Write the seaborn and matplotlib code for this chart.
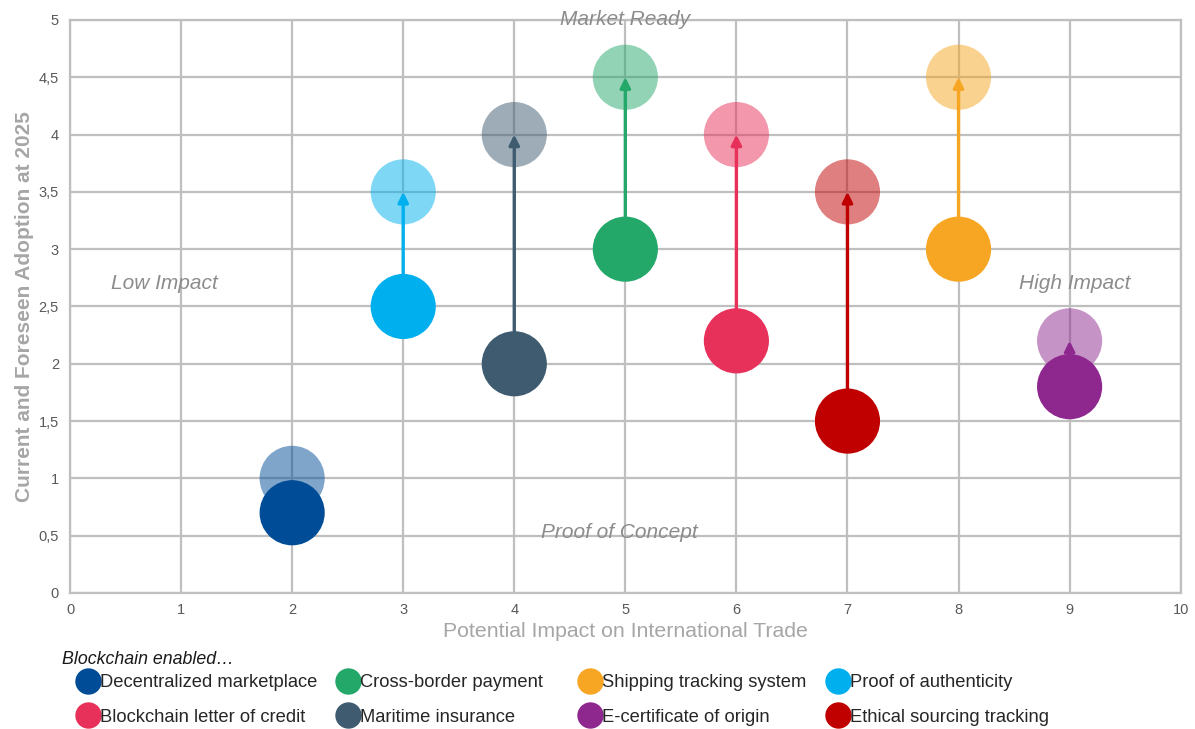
"""Blockchain use cases: current vs foreseen adoption bubble chart."""

import matplotlib

matplotlib.use("Agg")
import matplotlib.pyplot as plt
from matplotlib.lines import Line2D
from matplotlib.ticker import FuncFormatter, MultipleLocator
import pandas as pd
import seaborn as sns

# data
use_cases = [
    "Decentralized marketplace",
    "Proof of authenticity",
    "Maritime insurance",
    "Cross-border payment",
    "Blockchain letter of credit",
    "Ethical sourcing tracking",
    "Shipping tracking system",
    "E-certificate of origin",
]
impact = [2, 3, 4, 5, 6, 7, 8, 9]
adoption_now = [0.7, 2.5, 2.0, 3.0, 2.2, 1.5, 3.0, 1.8]
adoption_2025 = [1.0, 3.5, 4.0, 4.5, 4.0, 3.5, 4.5, 2.2]
colors = ["#004c97", "#00b0ee", "#3e5b70", "#24a86a", "#e8315a", "#c00000", "#f6a623", "#8e288e"]

# legend columns, top row then bottom row
legend_columns = [
    ["Decentralized marketplace", "Blockchain letter of credit"],
    ["Cross-border payment", "Maritime insurance"],
    ["Shipping tracking system", "E-certificate of origin"],
    ["Proof of authenticity", "Ethical sourcing tracking"],
]

quadrant_labels = [
    ("Market Ready", 5.0, 5.0),
    ("Low Impact", 0.85, 2.7),
    ("High Impact", 9.05, 2.7),
    ("Proof of Concept", 4.95, 0.53),
]

df = pd.DataFrame({"case": use_cases, "impact": impact, "now": adoption_now, "later": adoption_2025})
palette = dict(zip(use_cases, colors))

sns.set_theme(style="whitegrid")
plt.rcParams["font.family"] = ["Liberation Sans", "DejaVu Sans"]

fig = plt.figure(figsize=(11.95, 7.29), dpi=100)
ax = fig.add_axes([0.0586, 0.1866, 0.9294, 0.786])

grid_col = "#bfbfbf"
bubble = 2200

sns.scatterplot(data=df, x="impact", y="later", hue="case", palette=palette, s=bubble,
                alpha=0.5, linewidth=0, legend=False, ax=ax, zorder=3)
for _, row in df.iterrows():
    ax.annotate("", xy=(row["impact"], row["later"]), xytext=(row["impact"], row["now"]),
                arrowprops=dict(arrowstyle="-|>,head_length=0.5,head_width=0.25",
                                color=palette[row["case"]], lw=2.4, shrinkA=0, shrinkB=0),
                zorder=4)
sns.scatterplot(data=df, x="impact", y="now", hue="case", palette=palette, s=bubble,
                linewidth=0, legend=False, ax=ax, zorder=5)

for text, x, y in quadrant_labels:
    ax.text(x, y, text, ha="center", va="center", style="italic", fontsize=15,
            color="#8c8c8c", zorder=6)

ax.set_xlim(0, 10)
ax.set_ylim(0, 5)
ax.xaxis.set_major_locator(MultipleLocator(1))
ax.yaxis.set_major_locator(MultipleLocator(0.5))
ax.yaxis.set_major_formatter(FuncFormatter(lambda v, _: f"{v:g}".replace(".", ",")))
ax.grid(True, color=grid_col, linewidth=1.6)
ax.set_axisbelow(True)
for side in ax.spines.values():
    side.set_color(grid_col)
    side.set_linewidth(1.6)
ax.tick_params(axis="both", labelsize=10.5, labelcolor="#595959", length=0)
ax.tick_params(axis="x", pad=7)
ax.tick_params(axis="y", pad=8)

ax.set_xlabel("Potential Impact on International Trade", fontsize=15.3, color="#a6a6a6", labelpad=4)
ax.set_ylabel("Current and Foreseen Adoption at 2025", fontsize=15, color="#a6a6a6",
              fontweight="bold", labelpad=3)

fig.text(0.052, 0.0947, "Blockchain enabled…", style="italic", fontsize=12.8,
         color="#1a1a1a", va="center")
col_left = [77, 337, 579, 827]
for left, names in zip(col_left, legend_columns):
    handles = [Line2D([], [], marker="o", linestyle="", markersize=19, markeredgewidth=0,
                      color=palette[name], label=name) for name in names]
    fig.legend(handles=handles, loc="upper left", bbox_to_anchor=(left / 1195, 0.075),
               frameon=False, fontsize=13.2, handletextpad=0.05, labelspacing=0.95,
               borderaxespad=0, borderpad=0, handlelength=1.2)

fig.savefig("out.png", dpi=100)
